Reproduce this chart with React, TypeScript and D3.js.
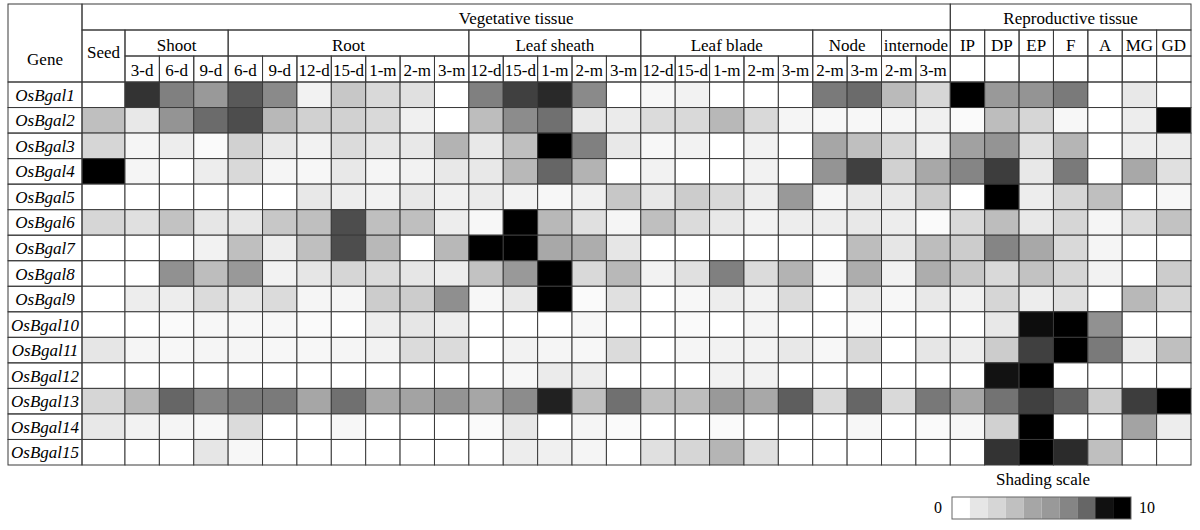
import * as d3 from "d3";

// genes (rows)
const genes = [
  "OsBgal1", "OsBgal2", "OsBgal3", "OsBgal4", "OsBgal5",
  "OsBgal6", "OsBgal7", "OsBgal8", "OsBgal9", "OsBgal10",
  "OsBgal11", "OsBgal12", "OsBgal13", "OsBgal14", "OsBgal15",
];

// header structure
const tissues = ["Vegetative tissue", "Reproductive tissue"];
const organs = ["Seed", "Shoot", "Root", "Leaf sheath", "Leaf blade", "Node", "internode",
  "IP", "DP", "EP", "F", "A", "MG", "GD"];
const organTissue = [0, 0, 0, 0, 0, 0, 0, 1, 1, 1, 1, 1, 1, 1];
const stages = [
  [""],
  ["3-d", "6-d", "9-d"],
  ["6-d", "9-d", "12-d", "15-d", "1-m", "2-m", "3-m"],
  ["12-d", "15-d", "1-m", "2-m", "3-m"],
  ["12-d", "15-d", "1-m", "2-m", "3-m"],
  ["2-m", "3-m"],
  ["2-m", "3-m"],
  [""], [""], [""], [""], [""], [""], [""],
];

// shading value 0..10, one row per gene, one entry per column
const expression = [
  [0, 8, 5, 4, 6.5, 4.6, 0.5, 2.2, 1.5, 1.2, 0, 5, 7.5, 8.4, 4.6, 0, 0.3, 0.5, 0, 0, 0, 5.2, 5.8, 2.7, 1.6, 10, 4, 4.2, 5.2, 0, 0.9, 0],
  [2.5, 0.9, 4.2, 5.8, 7, 2.8, 1.8, 1.8, 1.5, 0.6, 0, 2.6, 4.5, 5.6, 0.9, 0.8, 1.4, 1.5, 2.8, 1.5, 0.4, 0.3, 0.3, 0.4, 0.6, 0.2, 2.6, 1.6, 0.3, 0, 0.7, 10],
  [1.6, 0.4, 0.7, 0.2, 1.8, 0.9, 0.5, 1.4, 1, 0.9, 3, 0.9, 2.5, 10, 5, 0.9, 0.3, 0.5, 0, 0.5, 0, 3.5, 2.5, 1.6, 0.7, 3.7, 4.2, 1.2, 2.9, 0, 0.7, 0.7],
  [10, 0.4, 0, 0.7, 1.5, 0.4, 0.3, 0.9, 0.4, 0.5, 0.9, 0.9, 2.8, 6, 3, 0, 0.5, 0, 0, 0.5, 0, 4.2, 7.5, 1.8, 3.4, 4.8, 7.6, 0.9, 5.2, 0, 3.4, 1.2],
  [0, 0, 0, 0, 0, 0, 0.9, 0.7, 0.5, 0.9, 0.6, 0.8, 0.5, 0.3, 0.6, 2.2, 0.9, 2, 1.5, 0.7, 4, 0.4, 0.9, 0.9, 2, 0, 10, 0.7, 1.6, 2.5, 0, 0.3],
  [1.6, 1.2, 2.4, 1, 1, 2.2, 2.5, 7, 2.5, 2.5, 0.7, 0.3, 10, 2.8, 1.2, 0.4, 2.5, 1.4, 0.9, 0.5, 0.7, 0.7, 0.9, 0.7, 0.2, 1.5, 2.6, 0.9, 1.6, 0.4, 1.4, 2.4],
  [0, 0, 0, 0.5, 2.5, 0.7, 2.5, 7, 2.8, 0, 2.8, 10, 10, 3.4, 3.2, 1, 0, 0, 0, 0, 0, 0, 2.6, 1, 2.6, 2, 4.8, 3.4, 1.5, 0.4, 0, 0],
  [0, 0, 4.3, 2.6, 4, 0.5, 1, 1.6, 1.4, 1, 0.7, 2.4, 4, 10, 1.5, 2.8, 0.5, 1.2, 5, 1.4, 3, 0.3, 3.2, 0.5, 3.2, 2.2, 1.5, 2.4, 1.6, 0.5, 0, 2],
  [0, 0.7, 0.7, 1.4, 1, 1.4, 0.4, 0.4, 2, 2, 4.4, 0.3, 0.9, 10, 0.2, 1.2, 0, 0.3, 0.7, 0.5, 1.4, 0, 0.9, 0.3, 0.9, 0.6, 1.6, 0.7, 1.2, 0, 2.8, 1.6],
  [0, 0, 0.2, 0.3, 0.3, 0.3, 0.2, 0, 0.7, 1, 0.7, 0, 0, 0, 0.3, 0, 0, 0.2, 0, 0.4, 0, 0, 0.2, 0, 0, 0, 0.9, 9.5, 10, 4.3, 0, 0],
  [1, 0.4, 0.3, 0.4, 0.4, 0.3, 0.3, 0.4, 0.5, 1.4, 1.4, 0, 0.5, 0.4, 0.3, 1.4, 0, 0.4, 0.5, 0.5, 0.9, 0.3, 1.5, 0, 1, 0.7, 2, 7.5, 10, 5.2, 0.8, 2.5],
  [0, 0, 0, 0, 0, 0, 0, 0, 0, 0, 0, 0, 0.3, 0.8, 0.7, 0, 0, 0, 0.5, 0.5, 0, 0, 0, 0, 0, 0, 9.3, 10, 0, 0, 0, 0],
  [1.6, 2.8, 6, 4.8, 5.2, 5.2, 3.5, 5.6, 3.4, 3.6, 4.2, 3.5, 4.5, 8.7, 2.5, 5.6, 2.5, 2.6, 4, 3.4, 6.3, 1.5, 6, 1.5, 5.3, 3.5, 5.5, 7.5, 6.2, 2, 7.6, 10],
  [0.9, 0.5, 0.4, 0.3, 1.4, 0, 0, 0.3, 0, 0, 0, 0.2, 0.9, 0, 0.4, 0.2, 0, 0, 0.2, 0, 0, 0, 0.3, 0, 0.2, 0.3, 1.8, 10, 0, 0, 3.6, 0.7],
  [0, 0, 0, 1, 0.3, 0, 0, 0, 0, 0, 0, 0, 0.7, 0.6, 0.4, 0, 1.2, 1.6, 2.9, 1.2, 0, 0, 0, 0, 0, 0, 8, 10, 8.3, 2.5, 0, 0],
];

// shading scale swatches
const legendGrays = ["#ffffff", "#e6e6e6", "#d6d6d6", "#c0c0c0", "#a6a6a6", "#999999", "#858585", "#666666", "#111111", "#000000"];
const legendEnds = ["0", "10"];

const W = 1200;
const H = 530;
const left = 8;
const geneRight = 82;
const right = 1191;
const rowTops = [4, 30, 56, 82];
const bottom = 465;
const line = "#3a3a3a";
const font = '"Liberation Serif", monospace';

export default function App() {
  // columns: one per stage, Seed a bit wider
  const columns: { organ: number; stage: string; w: number }[] = [];
  organs.forEach((o, i) => {
    stages[i].forEach((s) => columns.push({ organ: i, stage: s, w: o === "Seed" ? 1.25 : 1 }));
  });
  const edges = [0];
  columns.forEach((c) => edges.push(edges[edges.length - 1] + c.w));

  const x = d3.scaleLinear().domain([0, edges[edges.length - 1]]).range([geneRight, right]);
  const y = d3.scaleBand().domain(genes).range([rowTops[3], bottom]);
  const shade = d3.scaleLinear<string>().domain([0, 10]).range(["#ffffff", "#000000"]);

  // spans of organs and tissues, in pixels
  const organSpan = organs.map((_, i) => {
    const idx = columns.map((c, j) => (c.organ === i ? j : -1)).filter((j) => j >= 0);
    return [x(edges[idx[0]]), x(edges[idx[idx.length - 1] + 1])];
  });
  const tissueSpan = tissues.map((_, t) => {
    const os = organs.map((_, i) => i).filter((i) => organTissue[i] === t);
    return [organSpan[os[0]][0], organSpan[os[os.length - 1]][1]];
  });

  const legX = d3.scaleBand().domain(legendGrays.map((_, i) => String(i))).range([952, 1131]);
  const txt = { fontFamily: font, fontSize: 17 };

  return (
    <svg width={W} height={H} style={{ position: "absolute", left: 0, top: 0 }}>
      <rect width={W} height={H} fill="#fff" />

      {/* data cells */}
      {genes.map((g, r) =>
        columns.map((c, j) => (
          <rect
            key={g + j}
            x={x(edges[j])}
            y={y(g)}
            width={x(edges[j + 1]) - x(edges[j])}
            height={y.bandwidth()}
            fill={shade(expression[r][j])}
            stroke={line}
            strokeWidth={1}
          />
        ))
      )}

      {/* gene labels */}
      {genes.map((g) => (
        <g key={g}>
          <rect x={left} y={y(g)} width={geneRight - left} height={y.bandwidth()} fill="none" stroke={line} />
          <text
            x={(left + geneRight) / 2}
            y={(y(g) as number) + y.bandwidth() / 2 + 6}
            textAnchor="middle"
            style={{ ...txt, fontStyle: "italic" }}
          >
            {g}
          </text>
        </g>
      ))}

      {/* header */}
      <rect x={left} y={rowTops[0]} width={geneRight - left} height={rowTops[3] - rowTops[0]} fill="none" stroke={line} />
      <text x={(left + geneRight) / 2} y={65} textAnchor="middle" style={txt}>Gene</text>

      {tissues.map((t, i) => (
        <g key={t}>
          <rect x={tissueSpan[i][0]} y={rowTops[0]} width={tissueSpan[i][1] - tissueSpan[i][0]} height={rowTops[1] - rowTops[0]} fill="none" stroke={line} />
          <text x={(tissueSpan[i][0] + tissueSpan[i][1]) / 2} y={24} textAnchor="middle" style={txt}>{t}</text>
        </g>
      ))}

      {organs.map((o, i) => {
        const [x0, x1] = organSpan[i];
        const tall = o === "Seed";
        return (
          <g key={o}>
            <rect x={x0} y={rowTops[1]} width={x1 - x0} height={(tall ? rowTops[3] : rowTops[2]) - rowTops[1]} fill="none" stroke={line} />
            <text x={(x0 + x1) / 2} y={tall ? 58 : 51} textAnchor="middle" style={txt}>{o}</text>
          </g>
        );
      })}

      {columns.map((c, j) =>
        c.organ === 0 ? null : (
          <g key={"s" + j}>
            <rect x={x(edges[j])} y={rowTops[2]} width={x(edges[j + 1]) - x(edges[j])} height={rowTops[3] - rowTops[2]} fill="none" stroke={line} />
            <text x={(x(edges[j]) + x(edges[j + 1])) / 2} y={76} textAnchor="middle" style={txt}>{c.stage}</text>
          </g>
        )
      )}

      {/* shading scale */}
      <text x={1043} y={485} textAnchor="middle" style={txt}>Shading scale</text>
      {legendGrays.map((c, i) => (
        <rect key={c} x={legX(String(i))} y={497} width={legX.bandwidth()} height={22} fill={c} />
      ))}
      <rect x={952} y={497} width={179} height={22} fill="none" stroke="#666" />
      <text x={938} y={513} textAnchor="middle" style={{ ...txt, fontSize: 16 }}>{legendEnds[0]}</text>
      <text x={1147} y={513} textAnchor="middle" style={{ ...txt, fontSize: 16 }}>{legendEnds[1]}</text>
    </svg>
  );
}
